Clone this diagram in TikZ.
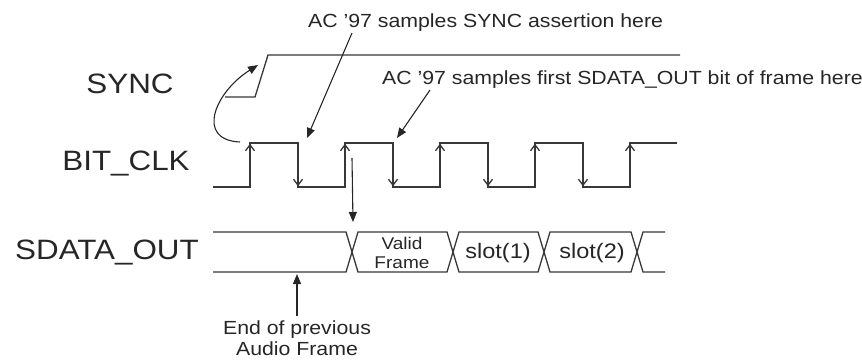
\documentclass[tikz,border=0pt]{standalone}
\usepackage{fontspec}
\setmainfont{Liberation Sans}
\usetikzlibrary{arrows.meta}
\newcommand\sx[1]{\scalebox{1.12}[1]{#1}}
\begin{document}
\begin{tikzpicture}[x=1pt,y=-1pt,
  wave/.style={draw=black!78,line width=1.3pt,line join=miter},
  edgearrow/.style={draw=black!78,line width=1.3pt,-{Straight Barb[length=6pt,width=9pt]}},
  pointer/.style={draw=black!85,line width=1.1pt,-{Triangle[length=10pt,width=8pt]}},
  biglabel/.style={text=black!85,font=\fontsize{28}{30}\selectfont,inner sep=0pt},
  note/.style={text=black!85,font=\fontsize{19}{22}\selectfont,inner sep=0pt},
  slotlabel/.style={text=black!85,font=\fontsize{21}{24}\selectfont,inner sep=0pt},
  small/.style={text=black!85,font=\fontsize{17}{21}\selectfont,inner sep=0pt,align=center}]
\useasboundingbox (0,0) rectangle (862,360);

% signal labels
\node[biglabel] (sync) at (130,84) {\sx{SYNC}};
\node[biglabel] (bclk) at (126,163) {\sx{BIT\_CLK}};
\node[biglabel] (sdo) at (107,252) {\sx{SDATA\_OUT}};

% SYNC waveform
\draw[wave] (225,97) -- (255,97) -- (268,55) -- (680,55);

% BIT_CLK waveform
\draw[wave] (213,187) -- (250,187) -- (250,143) -- (298,143) -- (298,187)
  -- (345,187) -- (345,143) -- (393,143) -- (393,187)
  -- (440,187) -- (440,143) -- (488,143) -- (488,187)
  -- (535,187) -- (535,143) -- (583,143) -- (583,187)
  -- (630,187) -- (630,143) -- (677,143);
\foreach \r in {250,345,440,535,630} \draw[edgearrow] (\r,170) -- (\r,143.7);
\foreach \f in {298,393,488,583} \draw[edgearrow] (\f,160) -- (\f,186.3);

% SDATA_OUT bus
\draw[wave] (213,232) -- (346,232) -- (358,272) -- (447,272) -- (459,232) -- (538,232) -- (550,272) -- (631,272) -- (643,232) -- (665,232);
\draw[wave] (213,272) -- (346,272) -- (358,232) -- (447,232) -- (459,272) -- (538,272) -- (550,232) -- (631,232) -- (643,272) -- (665,272);
\node[small] (valid) at (402,253) {\sx{Valid}\\[-2pt]\sx{Frame}};
\node[slotlabel] (s1) at (498,253) {\sx{slot(1)}};
\node[slotlabel] (s2) at (592,253) {\sx{slot(2)}};

% annotations
\node[note,anchor=west] (n1) at (308,23) {\sx{AC ’97 samples SYNC assertion here}};
\node[note,anchor=west] (n2) at (382,80) {\sx{AC ’97 samples first SDATA\_OUT bit of frame here}};
\node[note,align=center] (n3) at (297,338) {\sx{End of previous}\\[-1pt]\sx{Audio Frame}};

\coordinate (n1a) at (352,33);
\coordinate (t1) at (307,138);
\coordinate (n2a) at (430,90);
\coordinate (t2) at (397,138);
\coordinate (ca) at (352,158);
\coordinate (t3) at (353,222);
\coordinate (n3a) at (297,316);
\coordinate (t4) at (297,274);
\coordinate (cs) at (240,142);
\coordinate (ce) at (258,65);

\draw[pointer] (n1a) -- (t1);
\draw[pointer] (n2a) -- (t2);
\draw[pointer] (ca) -- (t3);
\draw[pointer] (n3a) -- (t4);
\draw[pointer] (cs) .. controls (195,140) and (215,92) .. (ce);
\end{tikzpicture}
\end{document}
